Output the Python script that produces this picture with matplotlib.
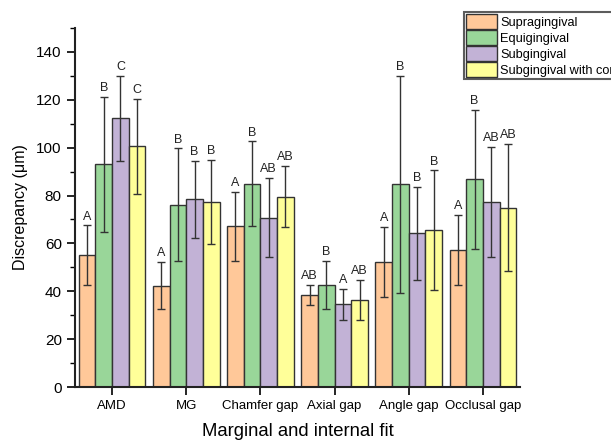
import numpy as np
import matplotlib.pyplot as plt
from matplotlib.ticker import MultipleLocator

plt.rcParams['font.family'] = ['Liberation Sans', 'DejaVu Sans']

categories = ['AMD', 'MG', 'Chamfer gap', 'Axial gap', 'Angle gap', 'Occlusal gap']
groups = ['Supragingival', 'Equigingival', 'Subgingival', 'Subgingival with cord']

supra = [55.0, 42.3, 67.1, 38.4, 52.4, 57.2]
equi = [93.0, 76.2, 85.0, 42.5, 84.7, 86.8]
sub = [112.3, 78.4, 70.8, 34.5, 64.2, 77.2]
cord = [100.5, 77.3, 79.5, 36.4, 65.5, 74.9]

supra_sd = [12.5, 9.8, 14.4, 4.2, 14.6, 14.7]
equi_sd = [28.3, 23.5, 17.6, 10.0, 45.4, 29.0]
sub_sd = [17.7, 16.0, 16.4, 6.5, 19.3, 23.0]
cord_sd = [20.0, 17.4, 12.7, 8.2, 25.0, 26.5]

supra_lbl = ['A', 'A', 'A', 'AB', 'A', 'A']
equi_lbl = ['B', 'B', 'B', 'B', 'B', 'B']
sub_lbl = ['C', 'B', 'AB', 'A', 'B', 'AB']
cord_lbl = ['C', 'B', 'AB', 'AB', 'B', 'AB']

colors = ['#FFC899', '#99D699', '#C2B2D6', '#FFFF99']

values = [supra, equi, sub, cord]
sds = [supra_sd, equi_sd, sub_sd, cord_sd]
labels = [supra_lbl, equi_lbl, sub_lbl, cord_lbl]

fig = plt.figure(figsize=(6.11, 4.42), dpi=100)
ax = fig.add_axes([0.1227, 0.1244, 0.7283, 0.8123])

x = np.arange(len(categories))
w = 0.225
for i in range(4):
    pos = x + (i - 1.5) * w
    ax.bar(pos, values[i], w, color=colors[i], edgecolor='#333333', linewidth=1.0,
           label=groups[i], zorder=2)
    ax.errorbar(pos, values[i], yerr=sds[i], fmt='none', ecolor='#333333',
                elinewidth=1.0, capsize=3, capthick=1.0, zorder=3)
    for p, v, s, t in zip(pos, values[i], sds[i], labels[i]):
        ax.text(p, v + s + 1.2, t, ha='center', va='bottom', fontsize=9, color='#222222')

ax.set_xlim(-0.5, 5.5)
ax.set_ylim(0, 150)
ax.set_xticks(x)
ax.set_xticklabels(categories, fontsize=9.5)
ax.yaxis.set_major_locator(MultipleLocator(20))
ax.yaxis.set_minor_locator(MultipleLocator(10))
ax.tick_params(axis='y', labelsize=11, direction='out', length=6, width=1.2)
ax.tick_params(axis='y', which='minor', direction='out', length=3.5, width=1.0)
ax.tick_params(axis='x', direction='out', length=6, width=1.2)
for s in ['top', 'right']:
    ax.spines[s].set_visible(False)
for s in ['left', 'bottom']:
    ax.spines[s].set_linewidth(1.5)
    ax.spines[s].set_color('#222222')

ax.set_ylabel('Discrepancy (\u03bcm)', fontsize=11.5, labelpad=6)
ax.set_xlabel('Marginal and internal fit', fontsize=13.3, labelpad=8)

leg = fig.legend(loc='upper left', bbox_to_anchor=(464 / 611, 1 - 12 / 442), fontsize=9.2,
                 frameon=True, fancybox=False, edgecolor='#333333', borderpad=0.15,
                 labelspacing=0.1, handlelength=2.4, handleheight=1.4, handletextpad=0.3,
                 borderaxespad=0)
leg.get_frame().set_linewidth(1.5)

fig.savefig('out.png', dpi=100)
